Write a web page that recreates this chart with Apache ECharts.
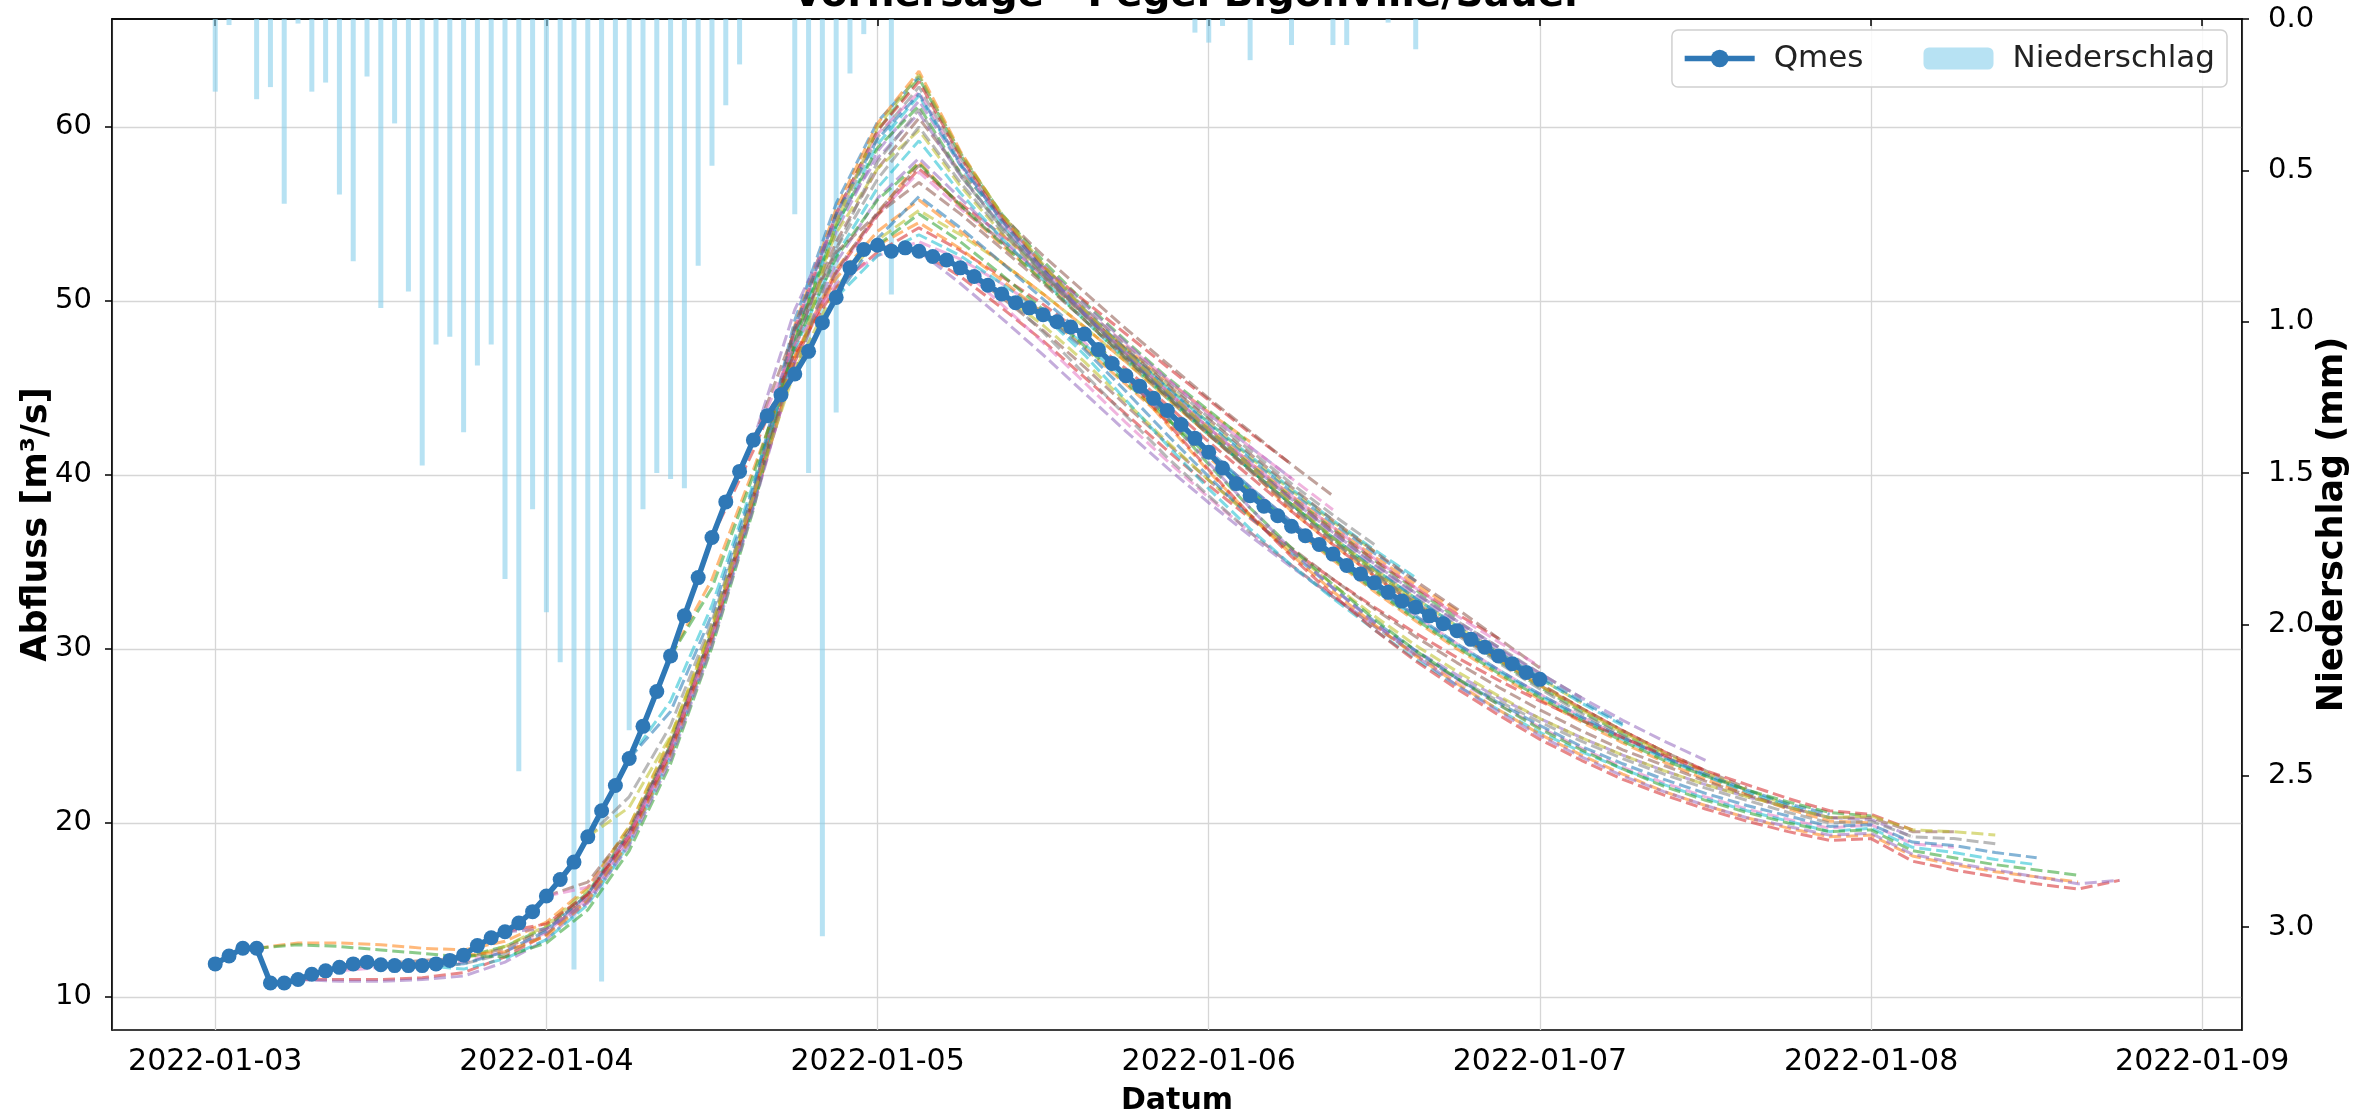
<!DOCTYPE html>
<html>
<head>
<meta charset="utf-8">
<script src="https://cdn.jsdelivr.net/npm/echarts@6/dist/echarts.min.js"></script>
<style>
  html, body { margin: 0; padding: 0; background: #fff; }
  #chart { width: 2376px; height: 1114px; }
</style>
</head>
<body>
<div id="chart"></div>
<script>
// hourly values starting 2022-01-03 00:00
const startTime = new Date(2022, 0, 3, 0).getTime();
const HOUR = 3600 * 1000;

const qmes = [
  11.9, 12.35, 12.8, 12.8, 10.8, 10.8, 11.0, 11.3, 11.5, 11.7,
  11.9, 12.0, 11.85, 11.8, 11.8, 11.8, 11.9, 12.1, 12.4, 12.95,
  13.4, 13.75, 14.25, 14.9, 15.8, 16.75, 17.75, 19.2, 20.7, 22.15,
  23.7, 25.55, 27.55, 29.6, 31.9, 34.1, 36.4, 38.45, 40.2, 42.0,
  43.4, 44.6, 45.8, 47.1, 48.75, 50.2, 51.9, 52.95, 53.2, 52.85,
  53.05, 52.85, 52.55, 52.35, 51.9, 51.4, 50.9, 50.4, 49.9, 49.6,
  49.2, 48.8, 48.5, 48.1, 47.2, 46.4, 45.7, 45.1, 44.4, 43.7,
  42.9, 42.1, 41.3, 40.4, 39.5, 38.8, 38.2, 37.65, 37.05, 36.5,
  36.0, 35.45, 34.8, 34.3, 33.8, 33.25, 32.75, 32.4, 31.9, 31.45,
  31.05, 30.55, 30.1, 29.6, 29.15, 28.65, 28.25
];

const niederschlag = [
  0.24, 0.02, 0, 0.265, 0.225, 0.61, 0.015, 0.24, 0.21, 0.58,
  0.80, 0.19, 0.955, 0.345, 0.90, 1.475, 1.075, 1.05, 1.365, 1.145,
  1.075, 1.85, 2.485, 1.62, 1.96, 2.125, 3.14, 2.71, 3.18, 2.81,
  2.35, 1.62, 1.50, 1.52, 1.55, 0.815, 0.485, 0.285, 0.15, 0,
  0, 0, 0.645, 1.5, 3.03, 1.3, 0.18, 0.05, 0, 0.91,
  0, 0, 0, 0, 0, 0, 0, 0, 0, 0,
  0, 0, 0, 0, 0, 0, 0, 0, 0, 0,
  0, 0.045, 0.078, 0.023, 0, 0.136, 0, 0, 0.086, 0,
  0, 0.086, 0.086, 0, 0, 0.012, 0, 0.10, 0, 0,
  0, 0, 0, 0, 0, 0, 0
];

// forecast runs: start hour of each run, two members per run, values every 3 hours
const forecastStarts = [3, 6, 9, 12, 15, 18, 21, 24, 27, 30, 33, 36, 39, 42, 45, 48, 51, 54, 57, 60, 63, 66];
const forecastStep = 3;
const memberA = [
  [12.8, 13.1, 13.1, 13.0, 12.8, 12.7, 13.2, 14.3, 16.3, 19.8, 24.8, 31.3, 38.8, 46.8, 51.8, 55.0, 58.0, 55.4, 53.2, 51.2, 49.2, 47.3, 45.4, 43.6, 41.9],
  [11.0, 11.0, 11.0, 11.1, 11.4, 12.3, 13.6, 15.8, 19.3, 24.3, 30.8, 38.3, 46.5, 51.6, 54.9, 57.6, 55.6, 53.8, 51.9, 50.0, 48.1, 46.2, 44.3, 42.4, 40.6],
  [11.6, 11.9, 12.1, 12.2, 12.8, 13.9, 15.9, 19.4, 24.4, 30.9, 38.6, 47.6, 53.4, 57.6, 60.5, 57.4, 54.9, 52.6, 50.5, 48.4, 46.4, 44.4, 42.5, 40.6, 38.8],
  [11.85, 11.7, 11.9, 12.5, 13.6, 15.6, 19.0, 24.0, 30.6, 38.5, 48.2, 54.6, 59.4, 62.3, 58.2, 54.8, 52.0, 49.6, 47.4, 45.3, 43.3, 41.4, 39.5, 37.7, 36.0],
  [11.8, 11.6, 12.2, 13.3, 15.3, 18.8, 23.8, 30.4, 38.3, 48.0, 54.3, 59.0, 61.8, 57.8, 54.4, 51.7, 49.3, 47.1, 45.0, 43.0, 41.1, 39.2, 37.4, 35.7, 34.1],
  [12.4, 12.6, 13.5, 15.5, 18.9, 23.9, 30.5, 38.6, 48.6, 55.3, 60.2, 63.2, 58.6, 54.9, 52.0, 49.4, 47.0, 44.8, 42.7, 40.7, 38.8, 37.0, 35.3, 33.7, 32.2],
  [13.75, 14.2, 15.9, 19.2, 24.1, 30.7, 38.7, 48.4, 55.0, 59.8, 62.6, 58.3, 54.7, 51.8, 49.2, 46.8, 44.6, 42.5, 40.5, 38.6, 36.8, 35.1, 33.5, 32.0, 30.6],
  [15.8, 16.6, 19.6, 24.5, 31.0, 38.7, 46.6, 51.7, 55.1, 57.8, 55.5, 53.4, 51.4, 49.3, 47.2, 45.2, 43.2, 41.2, 39.3, 37.4, 35.6, 33.9, 32.3, 30.6, 28.9],
  [19.2, 21.5, 25.6, 31.6, 39.0, 47.6, 53.0, 57.0, 60.0, 56.8, 54.0, 51.5, 49.1, 46.8, 44.6, 42.5, 40.5, 38.6, 36.7, 34.9, 33.2, 31.6, 30.1, 28.6, 27.2],
  [23.7, 27.0, 32.5, 39.5, 47.2, 52.6, 56.5, 59.2, 56.2, 53.6, 51.2, 48.9, 46.6, 44.4, 42.3, 40.3, 38.3, 36.4, 34.6, 32.9, 31.3, 29.8, 28.3, 26.9, 25.6],
  [29.6, 34.0, 40.3, 46.8, 51.3, 54.0, 55.8, 54.0, 52.2, 50.4, 48.5, 46.5, 44.4, 42.3, 40.3, 37.9, 36.0, 34.2, 32.5, 30.9, 29.4, 28.0, 26.6, 25.3, 24.1],
  [36.4, 41.4, 47.0, 50.8, 52.8, 54.2, 52.9, 51.4, 49.8, 48.0, 46.1, 44.0, 41.9, 39.9, 37.9, 36.0, 34.2, 32.5, 30.9, 29.4, 27.9, 26.6, 25.3, 24.1, 23.0],
  [42.0, 48.3, 52.8, 55.0, 56.8, 55.0, 53.0, 51.0, 48.9, 46.7, 44.5, 42.3, 40.2, 38.1, 36.2, 34.4, 32.7, 31.0, 29.5, 28.0, 26.6, 25.3, 24.1, 23.0, 22.0],
  [45.8, 53.0, 58.0, 61.0, 57.2, 54.2, 51.6, 49.2, 46.9, 44.6, 42.4, 40.3, 38.2, 36.2, 34.3, 32.5, 30.8, 29.2, 27.7, 26.3, 25.0, 23.8, 22.7, 21.7, 20.8],
  [50.2, 52.6, 53.8, 52.6, 51.0, 49.3, 47.5, 45.5, 43.4, 41.3, 39.2, 37.2, 35.3, 33.5, 31.8, 30.2, 28.7, 27.3, 26.0, 24.8, 23.7, 22.7, 21.8, 21.0, 20.3],
  [53.2, 54.5, 53.0, 51.2, 49.3, 47.3, 45.2, 43.1, 41.0, 39.0, 37.0, 35.1, 33.3, 31.6, 30.0, 28.5, 27.1, 25.8, 24.6, 23.5, 22.5, 21.6, 20.8, 20.1, 20.0],
  [52.85, 51.4, 49.6, 47.7, 45.6, 43.5, 41.4, 39.4, 37.5, 35.7, 34.0, 32.4, 30.9, 29.5, 28.2, 27.0, 25.9, 24.9, 23.9, 23.0, 22.2, 21.4, 20.7, 20.5, 19.6],
  [51.9, 50.2, 48.3, 46.2, 44.0, 41.8, 39.7, 37.7, 35.8, 34.0, 32.3, 30.7, 29.2, 27.8, 26.5, 25.3, 24.2, 23.3, 22.4, 21.6, 20.9, 20.3, 20.3, 19.5, 19.5],
  [50.4, 48.2, 45.8, 43.4, 41.0, 38.8, 36.7, 34.8, 33.0, 31.3, 29.7, 28.3, 27.0, 25.8, 24.7, 23.7, 22.8, 22.0, 21.3, 20.6, 20.0, 20.1, 19.2, 19.1, 18.8],
  [49.2, 46.9, 44.3, 41.7, 39.2, 36.9, 34.8, 32.9, 31.1, 29.4, 27.9, 26.5, 25.2, 24.1, 23.1, 22.2, 21.4, 20.7, 20.1, 19.5, 19.7, 18.6, 18.3, 17.9, 17.6],
  [48.1, 45.6, 42.9, 40.2, 37.7, 35.4, 33.3, 31.4, 29.6, 28.0, 26.5, 25.1, 23.9, 22.8, 21.8, 21.0, 20.3, 19.7, 19.2, 19.3, 18.1, 17.6, 17.2, 16.9, 16.6],
  [45.7, 43.0, 40.3, 37.7, 35.3, 33.1, 31.1, 29.3, 27.7, 26.2, 24.8, 23.6, 22.5, 21.6, 20.8, 20.1, 19.5, 19.0, 19.1, 17.8, 17.3, 16.9, 16.5, 16.2, 16.7]
];
const memberB = [
  [12.8, 13.0, 12.9, 12.7, 12.5, 12.3, 12.9, 14.0, 16.0, 19.5, 24.5, 31.0, 38.6, 47.9, 55.0, 59.8, 62.8, 58.4, 55.0, 52.3, 49.9, 47.7, 45.6, 43.7, 41.8],
  [11.0, 10.9, 10.9, 11.0, 11.2, 12.0, 13.3, 15.5, 19.0, 24.0, 30.5, 38.2, 47.3, 54.0, 58.6, 61.5, 57.8, 54.7, 52.1, 49.8, 47.6, 45.5, 43.5, 41.6, 39.8],
  [11.5, 11.7, 11.8, 12.0, 12.6, 13.7, 15.7, 19.2, 24.2, 30.7, 38.4, 46.4, 51.6, 55.0, 57.4, 55.3, 53.4, 51.5, 49.5, 47.5, 45.5, 43.5, 41.6, 39.8, 38.0],
  [11.85, 11.9, 12.2, 12.9, 14.1, 16.2, 19.8, 24.9, 31.4, 39.0, 48.0, 53.9, 57.6, 59.8, 56.6, 53.9, 51.5, 49.3, 47.2, 45.1, 43.0, 41.0, 39.1, 37.3, 35.6],
  [11.8, 11.9, 12.6, 13.8, 15.9, 19.4, 24.4, 31.0, 38.9, 48.9, 55.6, 60.3, 62.9, 58.5, 54.9, 52.0, 49.5, 47.2, 45.0, 42.9, 40.9, 39.0, 37.2, 35.5, 33.9],
  [12.4, 12.3, 13.1, 15.0, 18.4, 23.4, 30.1, 38.0, 47.7, 54.3, 58.8, 61.2, 57.3, 54.2, 51.6, 49.2, 46.9, 44.7, 42.6, 40.6, 38.7, 36.9, 35.1, 33.4, 31.8],
  [13.75, 13.9, 15.4, 18.7, 23.6, 30.2, 38.1, 46.6, 52.2, 55.9, 58.2, 55.9, 53.6, 51.4, 49.2, 47.0, 44.8, 42.7, 40.6, 38.6, 36.7, 34.9, 33.2, 31.6, 30.1],
  [15.8, 16.3, 19.3, 24.2, 30.8, 38.8, 48.3, 55.0, 59.6, 62.0, 57.9, 54.6, 51.8, 49.3, 47.0, 44.8, 42.7, 40.7, 38.8, 37.0, 35.2, 33.5, 31.9, 30.4, 29.0],
  [19.2, 20.9, 25.0, 31.2, 38.8, 46.0, 50.8, 53.5, 55.2, 53.8, 52.2, 50.4, 48.5, 46.5, 44.4, 42.3, 40.3, 38.3, 36.4, 34.6, 32.9, 31.3, 29.8, 28.3, 26.9],
  [23.7, 26.4, 32.0, 39.3, 48.5, 55.0, 59.3, 61.9, 57.9, 54.6, 51.8, 49.3, 46.9, 44.6, 42.4, 40.3, 38.3, 36.4, 34.6, 32.9, 31.3, 29.8, 28.4, 27.0, 25.7],
  [29.6, 33.5, 40.0, 47.4, 52.5, 55.8, 57.9, 55.5, 53.3, 51.1, 48.9, 46.7, 44.5, 42.4, 40.3, 38.3, 36.3, 34.4, 32.6, 30.9, 29.3, 27.8, 26.4, 25.1, 23.9],
  [36.4, 42.0, 49.5, 54.6, 58.2, 60.8, 57.2, 54.3, 51.7, 49.3, 47.0, 44.8, 42.6, 40.5, 38.5, 36.6, 34.8, 33.1, 31.5, 30.0, 28.6, 27.2, 25.9, 24.7, 23.6],
  [42.0, 47.5, 51.0, 52.6, 53.4, 52.4, 51.0, 49.4, 47.6, 45.6, 43.5, 41.4, 39.3, 37.3, 35.4, 33.6, 31.9, 30.3, 28.8, 27.4, 26.1, 24.9, 23.8, 22.8, 21.9],
  [45.8, 54.5, 60.0, 63.0, 58.5, 55.0, 52.1, 49.5, 47.1, 44.8, 42.6, 40.5, 38.4, 36.4, 34.5, 32.7, 31.0, 29.4, 27.9, 26.5, 25.2, 24.0, 22.9, 21.9, 21.0],
  [50.2, 53.6, 56.0, 54.2, 52.2, 50.1, 48.0, 45.8, 43.6, 41.4, 39.3, 37.3, 35.4, 33.6, 31.9, 30.3, 28.8, 27.4, 26.1, 24.9, 23.8, 22.8, 21.9, 21.1, 20.5],
  [53.2, 55.0, 53.4, 51.5, 49.5, 47.4, 45.3, 43.2, 41.1, 39.1, 37.1, 35.2, 33.4, 31.7, 30.1, 28.6, 27.2, 25.9, 24.7, 23.6, 22.7, 21.9, 21.2, 20.6, 20.4],
  [52.85, 51.0, 49.0, 46.9, 44.7, 42.5, 40.4, 38.4, 36.5, 34.7, 33.0, 31.4, 29.9, 28.5, 27.2, 26.0, 24.9, 23.9, 23.0, 22.2, 21.5, 20.9, 20.3, 20.2, 19.2],
  [51.9, 49.8, 47.6, 45.3, 43.0, 40.8, 38.7, 36.7, 34.8, 33.0, 31.3, 29.7, 28.2, 26.8, 25.5, 24.3, 23.2, 22.3, 21.5, 20.8, 20.2, 19.7, 19.9, 18.8, 18.6],
  [50.4, 48.6, 46.5, 44.2, 41.9, 39.7, 37.6, 35.6, 33.7, 31.9, 30.2, 28.7, 27.3, 26.0, 24.9, 23.9, 23.0, 22.2, 21.5, 20.9, 20.3, 20.4, 19.6, 19.5, 19.3],
  [49.2, 47.2, 44.8, 42.3, 39.9, 37.6, 35.5, 33.5, 31.6, 29.9, 28.3, 26.9, 25.6, 24.4, 23.4, 22.5, 21.7, 21.0, 20.4, 19.8, 19.9, 18.9, 18.7, 18.3, 18.0],
  [48.1, 45.9, 43.3, 40.6, 38.1, 35.8, 33.7, 31.7, 29.9, 28.3, 26.8, 25.4, 24.2, 23.1, 22.1, 21.3, 20.6, 20.0, 19.5, 19.6, 18.4, 18.0, 17.6, 17.3, 17.0],
  [45.7, 43.3, 40.7, 38.1, 35.7, 33.5, 31.5, 29.6, 27.9, 26.4, 25.0, 23.8, 22.7, 21.8, 21.0, 20.3, 19.8, 19.3, 19.4, 18.2, 17.7, 17.3, 16.9, 16.5, 16.7]
];

const abflussTicks = [10, 20, 30, 40, 50, 60];
const regenTicks = [0, 0.5, 1.0, 1.5, 2.0, 2.5, 3.0];

// matplotlib tab10
const palette = ['#1f77b4', '#ff7f0e', '#2ca02c', '#d62728', '#9467bd', '#8c564b', '#e377c2', '#7f7f7f', '#bcbd22', '#17becf'];
const FONT = 'DejaVu Sans';

const hourToTime = (h) => startTime + h * HOUR;

function runSeries(vals, i, colorIdx) {
  return {
    name: 'Lauf ' + forecastStarts[i],
    type: 'line',
    data: vals.map((v, k) => [hourToTime(forecastStarts[i] + k * forecastStep), v]),
    symbol: 'none',
    silent: true,
    z: 3,
    lineStyle: { color: palette[colorIdx % 10], width: 3, type: [12, 5], opacity: 0.55 }
  };
}

const forecastSeries = [];
memberA.forEach((vals, i) => {
  forecastSeries.push(runSeries(vals, i, 2 * i + 1));
  forecastSeries.push(runSeries(memberB[i], i, 2 * i + 2));
});

const chart = echarts.init(document.getElementById('chart'));

chart.setOption({
  animation: false,
  title: {
    text: 'Vorhersage - Pegel Bigonville/Sauer',
    left: 'center',
    top: -24,
    padding: 0,
    textStyle: { fontFamily: FONT, fontSize: 39, fontWeight: 'bold', color: '#000' }
  },
  legend: {
    data: ['Qmes', 'Niederschlag'],
    right: 149,
    top: 30,
    itemWidth: 70,
    itemHeight: 22,
    itemGap: 60,
    padding: [13, 12, 13, 10],
    backgroundColor: 'rgba(255,255,255,0.85)',
    borderColor: '#d0d0d0',
    borderWidth: 1.5,
    borderRadius: 6,
    lineStyle: { width: 5.5 },
    textStyle: { fontFamily: FONT, fontSize: 31, color: '#222', padding: [0, 0, 0, 14] }
  },
  grid: {
    left: 112, right: 134, top: 19, bottom: 84,
    containLabel: false,
    outerBoundsMode: 'none',
    show: true, borderColor: '#000', borderWidth: 1.5
  },
  xAxis: {
    type: 'time',
    min: hourToTime(-7.3),
    max: hourToTime(146.7),
    minInterval: 24 * HOUR,
    maxInterval: 24 * HOUR,
    name: 'Datum',
    nameLocation: 'middle',
    nameGap: 56,
    nameTextStyle: { fontFamily: FONT, fontSize: 30, fontWeight: 'bold', color: '#000' },
    axisLine: { lineStyle: { color: '#000', width: 1.5 } },
    axisTick: { length: 7, lineStyle: { color: '#000', width: 1.5 } },
    axisLabel: {
      showMinLabel: false,
      showMaxLabel: false,
      margin: 17,
      fontFamily: FONT, fontSize: 30, color: '#000',
      formatter: (v) => echarts.time.format(v, '{yyyy}-{MM}-{dd}', false)
    },
    splitLine: { show: true, lineStyle: { color: '#d6d6d6', width: 1.3 } }
  },
  yAxis: [
    {
      type: 'value',
      min: 8.1,
      max: 66.2,
      splitNumber: 6,
      name: 'Abfluss [m³/s]',
      nameLocation: 'middle',
      nameRotate: 90,
      nameGap: 58,
      nameMoveOverlap: false,
      nameTextStyle: { fontFamily: FONT, fontSize: 35, fontWeight: 'bold', color: '#000' },
      axisLine: { show: true, lineStyle: { color: '#000', width: 1.5 } },
      axisTick: { show: true, length: 7, lineStyle: { color: '#000', width: 1.5 }, customValues: abflussTicks },
      axisLabel: { customValues: abflussTicks, align: 'right', margin: 20, fontFamily: FONT, fontSize: 29, color: '#000' },
      splitLine: { show: true, lineStyle: { color: '#d6d6d6', width: 1.3 } }
    },
    {
      type: 'value',
      inverse: true,
      min: 0,
      max: 3.34,
      interval: 0.5,
      name: 'Niederschlag (mm)',
      nameLocation: 'middle',
      nameRotate: 90,
      nameGap: 73,
      nameMoveOverlap: false,
      nameTextStyle: { fontFamily: FONT, fontSize: 35, fontWeight: 'bold', color: '#000' },
      axisLine: { show: true, lineStyle: { color: '#000', width: 1.5 } },
      axisTick: { show: true, length: 7, lineStyle: { color: '#000', width: 1.5 }, customValues: regenTicks },
      axisLabel: {
        customValues: regenTicks, align: 'left', margin: 26, fontFamily: FONT, fontSize: 29, color: '#000',
        formatter: (v) => v.toFixed(1)
      },
      splitLine: { show: false }
    }
  ],
  series: [
    {
      name: 'Niederschlag',
      type: 'bar',
      yAxisIndex: 1,
      data: niederschlag.map((v, i) => [hourToTime(i), v]),
      barWidth: 5,
      z: 1,
      itemStyle: { color: 'rgba(135,206,235,0.6)' }
    },
    ...forecastSeries,
    {
      name: 'Qmes',
      type: 'line',
      data: qmes.map((v, i) => [hourToTime(i), v]),
      symbol: 'circle',
      symbolSize: 15,
      showSymbol: true,
      showAllSymbol: true,
      z: 5,
      color: '#2f78b6',
      lineStyle: { color: '#2f78b6', width: 5.5 },
      itemStyle: { color: '#2f78b6' }
    }
  ]
});
</script>
</body>
</html>
